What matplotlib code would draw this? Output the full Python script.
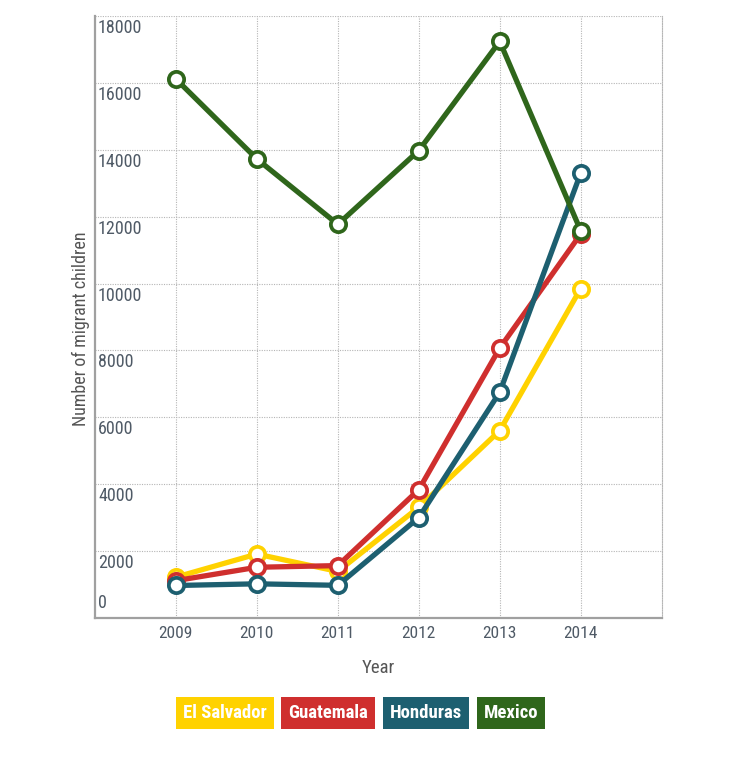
import matplotlib
matplotlib.use("Agg")
import matplotlib.pyplot as plt

plt.rcParams['font.family'] = ['Roboto Condensed', 'DejaVu Sans Condensed',
                               'Liberation Sans Narrow', 'DejaVu Sans']

years = [2009, 2010, 2011, 2012, 2013, 2014]
el_salvador = [1220, 1910, 1390, 3310, 5600, 9850]
guatemala = [1115, 1515, 1565, 3835, 8070, 11480]
honduras = [970, 1020, 975, 3000, 6750, 13300]
mexico = [16115, 13725, 11770, 13975, 17240, 11580]

series = [("El Salvador", el_salvador, "#FFD200"),
          ("Guatemala", guatemala, "#CF2F2E"),
          ("Honduras", honduras, "#1D5F70"),
          ("Mexico", mexico, "#2F661B")]

yticks = [0, 2000, 4000, 6000, 8000, 10000, 12000, 14000, 16000, 18000]

fig = plt.figure(figsize=(7.36, 7.61), dpi=100)
ax = fig.add_axes([0.129, 0.188, 0.770, 0.791])

for name, vals, col in series:
    ax.plot(years, vals, color=col, lw=3.8, marker="o", markersize=11,
            markerfacecolor="white", markeredgecolor=col, markeredgewidth=2.7,
            solid_capstyle="round", zorder=3)

ax.set_xlim(2008, 2015)
ax.set_ylim(0, 18000)
ax.set_xticks(years)
ax.set_yticks(yticks)
ax.set_yticklabels([])
ax.tick_params(length=0)
ax.tick_params(axis="x", pad=6, labelsize=12.5, labelcolor="#4f5a66")
ax.grid(True, color="#b5b5b5", linestyle=(0, (1, 1.2)), lw=0.8)
ax.set_axisbelow(True)

ax.spines["top"].set_visible(False)
ax.spines["right"].set_color("#b5b5b5")
ax.spines["right"].set_linestyle((0, (1, 1.2)))
ax.spines["right"].set_linewidth(0.8)
for s in ["left", "bottom"]:
    ax.spines[s].set_color("#a0a0a0")
    ax.spines[s].set_linewidth(1.6)

for v in yticks:
    if v == 0:
        ax.annotate(str(v), xy=(0, v), xycoords=("axes fraction", "data"),
                    xytext=(3, 6), textcoords="offset pixels", va="bottom",
                    ha="left", fontsize=13, color="#4f5a66")
    else:
        ax.annotate(str(v), xy=(0, v), xycoords=("axes fraction", "data"),
                    xytext=(3, -3), textcoords="offset pixels", va="top",
                    ha="left", fontsize=13, color="#4f5a66")

ax.set_xlabel("Year", fontsize=13.5, color="#555555", labelpad=13)
ax.set_ylabel("Number of migrant children", fontsize=13, color="#555555")
ax.yaxis.set_label_coords(-0.009, 0.48)

# legend as coloured boxes
fig.canvas.draw()
renderer = fig.canvas.get_renderer()
x = 0.249
for name, vals, col in series:
    t = fig.text(x, 0.063, name, fontsize=13.5, fontweight="bold", color="white",
                 va="center", ha="left",
                 bbox=dict(boxstyle="square,pad=0.38", facecolor=col, edgecolor="none"))
    fig.canvas.draw()
    bb = t.get_bbox_patch().get_window_extent(renderer)
    x += bb.width / fig.bbox.width + 0.010

fig.savefig("out.png", dpi=100)
